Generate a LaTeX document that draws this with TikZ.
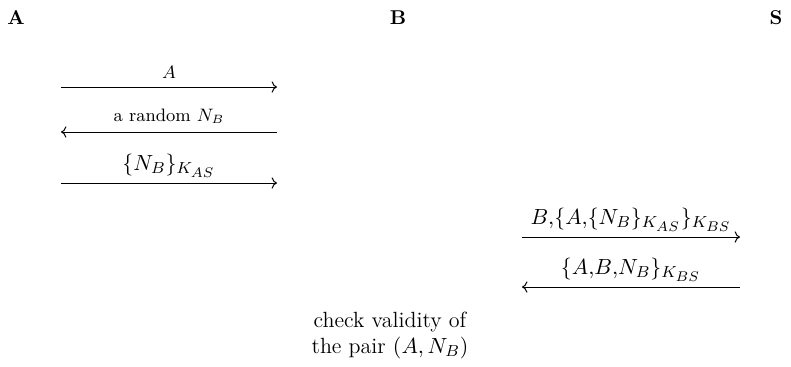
\documentclass[tikz,border=0pt]{standalone}
\usetikzlibrary{arrows.meta}
\DeclareMathSizes{10.8}{10.8}{8.3}{6.8}
\begin{document}
\begin{tikzpicture}[x=0.5pt,y=-0.5pt,
  party/.style={font=\bfseries},
  msg/.style={line width=0.5pt},
  lbl/.style={font=\small,inner sep=0pt,above=4pt},
  mlbl/.style={font=\fontsize{10.8}{12}\selectfont,inner sep=0pt,above=2.5pt}]
\useasboundingbox (0,0) rectangle (791,366);
\node[party] (pA) at (16,18) {A};
\node[party] (pB) at (398,18) {B};
\node[party] (pS) at (776,18) {S};
% messages
\coordinate (a1) at (61,87);  \coordinate (b1) at (277,87);
\coordinate (a2) at (61,132); \coordinate (b2) at (277,132);
\coordinate (a3) at (61,183); \coordinate (b3) at (277,183);
\coordinate (a4) at (522,237); \coordinate (b4) at (740,237);
\coordinate (a5) at (522,287); \coordinate (b5) at (740,287);
\draw[msg,->] (a1) -- node[lbl] {$A$} (b1);
\draw[msg,<-] (a2) -- node[lbl] {a random $N_B$} (b2);
\draw[msg,->] (a3) -- node[mlbl] {$\{N_B\}_{K_{AS}}$} (b3);
\draw[msg,->] (a4) -- node[mlbl] {$B,\!\{A,\!\{N_B\}_{K_{AS}}\}_{K_{BS}}$} (b4);
\draw[msg,<-] (a5) -- node[mlbl] {$\{A,\!B,\!N_B\}_{K_{BS}}$} (b5);
\node[align=center,inner sep=0pt,font=\fontsize{11}{13}\selectfont] (chk) at (390,335) {check validity of\\the pair $(A,N_B)$};
\end{tikzpicture}
\end{document}
